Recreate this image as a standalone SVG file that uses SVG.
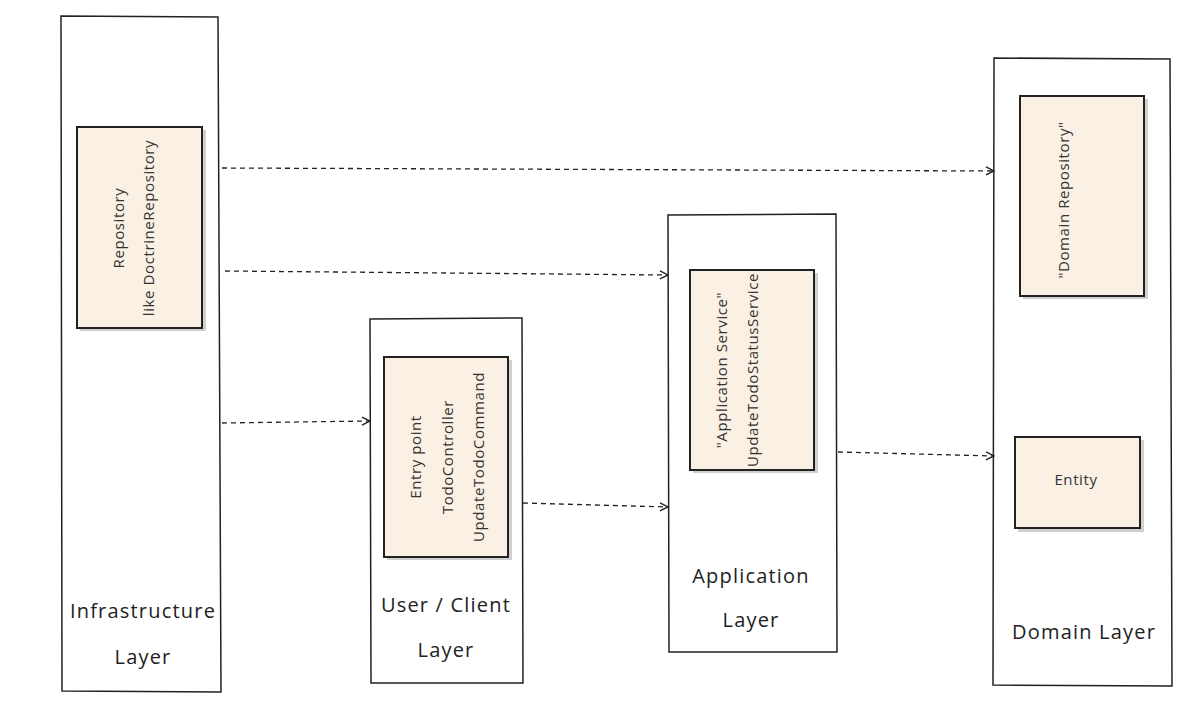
<svg xmlns="http://www.w3.org/2000/svg" width="1200" height="714" viewBox="0 0 1200 714">
<defs>
<style>
.layer{fill:#fff;stroke:#222;stroke-width:1.5}
.box{fill:#FAF0E3;stroke:#222;stroke-width:2}
.shadow{fill:#d0d0d0}
.t{font-family:"Open Sans","Noto Sans",sans-serif;font-size:15px;fill:#333;text-anchor:middle;dominant-baseline:central;letter-spacing:0.6px}
.lbl{font-family:"Open Sans","Noto Sans",sans-serif;font-size:20px;fill:#222;text-anchor:middle;dominant-baseline:central;letter-spacing:1.2px}
.con{fill:none;stroke:#222;stroke-width:1.3;stroke-dasharray:5 4}
</style>
<marker id="ah" viewBox="0 0 10 10" refX="9" refY="5" markerWidth="10" markerHeight="10" markerUnits="userSpaceOnUse" orient="auto">
<polyline points="1,1 9,5 1,9" fill="none" stroke="#222" stroke-width="1.4"/>
</marker>
</defs>
<rect width="1200" height="714" fill="#fff"/>

<g id="infra">
<path class="layer" d="M61,16 L218,17 L221,692 L62,691 Z"/>
<rect class="shadow" x="80" y="130" width="126" height="201"/>
<rect class="box" x="77" y="127" width="125" height="201"/>
<text class="t" transform="translate(118,228) rotate(-90)">Repository</text>
<text class="t" transform="translate(148,228) rotate(-90)">like DoctrineRepository</text>
<text class="lbl" x="143" y="610">Infrastructure</text>
<text class="lbl" x="143" y="656">Layer</text>
</g>

<g id="user">
<path class="layer" d="M370,319 L522,318 L523,683 L371,683 Z"/>
<rect class="shadow" x="387" y="360" width="125" height="200"/>
<rect class="box" x="384" y="357" width="124" height="200"/>
<text class="t" transform="translate(415,457) rotate(-90)">Entry point</text>
<text class="t" transform="translate(447,457) rotate(-90)">TodoController</text>
<text class="t" transform="translate(478,457) rotate(-90)">UpdateTodoCommand</text>
<text class="lbl" x="446" y="604">User / Client</text>
<text class="lbl" x="446" y="649">Layer</text>
</g>

<g id="app">
<path class="layer" d="M668,215 L836,214 L837,652 L669,652 Z"/>
<rect class="shadow" x="693" y="273" width="125" height="200"/>
<rect class="box" x="690" y="270" width="124" height="200"/>
<text class="t" transform="translate(721,370) rotate(-90)">"Application Service"</text>
<text class="t" transform="translate(752,370) rotate(-90)">UpdateTodoStatusService</text>
<text class="lbl" x="751" y="575">Application</text>
<text class="lbl" x="751" y="619">Layer</text>
</g>

<g id="domain">
<path class="layer" d="M994,58 L1170,59 L1172,686 L993,685 Z"/>
<rect class="shadow" x="1023" y="99" width="125" height="200"/>
<rect class="box" x="1020" y="96" width="124" height="200"/>
<text class="t" transform="translate(1063,200) rotate(-90)">"Domain Repository"</text>
<rect class="shadow" x="1018" y="440" width="126" height="92"/>
<rect class="box" x="1015" y="437" width="125" height="91"/>
<text class="t" x="1076" y="479">Entity</text>
<text class="lbl" x="1084" y="631">Domain Layer</text>
</g>

<g id="connectors">
<path class="con" d="M222,168 L994,171" marker-end="url(#ah)"/>
<path class="con" d="M225,271 L668,275" marker-end="url(#ah)"/>
<path class="con" d="M222,423 L370,421" marker-end="url(#ah)"/>
<path class="con" d="M523,503 L668,507" marker-end="url(#ah)"/>
<path class="con" d="M838,452 L994,456" marker-end="url(#ah)"/>
</g>
</svg>
